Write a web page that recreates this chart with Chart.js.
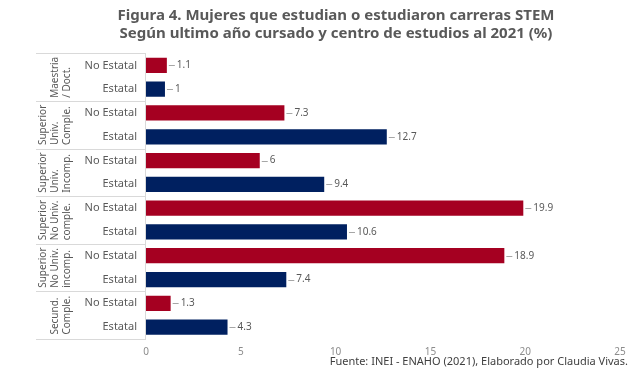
<!DOCTYPE html>
<html>
<head>
<meta charset="utf-8">
<script src="https://cdn.jsdelivr.net/npm/chart.js@4"></script>
<style>
  html, body { margin: 0; padding: 0; background: #fff; }
  #wrap { width: 640px; height: 370px; }
</style>
</head>
<body>
<div id="wrap"><canvas id="chart"></canvas></div>
<script>
const groupLabels = [
  ['Maestria', '/ Doct.'],
  ['Superior', 'Univ.', 'Comple.'],
  ['Superior', 'Univ.', 'Incomp.'],
  ['Superior', 'No Univ.', 'comple.'],
  ['Superior', 'No Univ.', 'incomp.'],
  ['Secund.', 'Comple.']
];
const subLabels = ['No Estatal', 'Estatal', 'No Estatal', 'Estatal', 'No Estatal', 'Estatal',
                   'No Estatal', 'Estatal', 'No Estatal', 'Estatal', 'No Estatal', 'Estatal'];
const values = [1.1, 1, 7.3, 12.7, 6, 9.4, 19.9, 10.6, 18.9, 7.4, 1.3, 4.3];
const xTicks = [0, 5, 10, 15, 20, 25];
const sourceText = 'Fuente: INEI - ENAHO (2021), Elaborado por Claudia Vivas.';

const RED = '#a50021';
const NAVY = '#002060';
const FONT = "'Noto Sans', sans-serif";
const barColors = subLabels.map(l => l === 'No Estatal' ? RED : NAVY);

// draws the two-level category axis on the left, the value labels and the source
const axisPlugin = {
  id: 'twoLevelAxis',
  afterDraw(chart) {
    const ctx = chart.ctx;
    const ys = chart.scales.y;
    const area = chart.chartArea;
    const band = ys.getPixelForValue(1) - ys.getPixelForValue(0);
    const boxLeft = 36;
    ctx.save();
    ctx.strokeStyle = '#d9d9d9';
    ctx.lineWidth = 1;
    // group separators
    for (let g = 0; g <= groupLabels.length; g++) {
      const y = Math.round(ys.getPixelForValue(g * 2) - band / 2) + 0.5;
      ctx.beginPath();
      ctx.moveTo(boxLeft, y);
      ctx.lineTo(area.left, y);
      ctx.stroke();
    }
    ctx.beginPath();
    ctx.moveTo(Math.round(area.left) - 0.5, area.top);
    ctx.lineTo(Math.round(area.left) - 0.5, area.bottom);
    ctx.stroke();

    // sub labels
    ctx.fillStyle = '#595959';
    ctx.font = '11px ' + FONT;
    ctx.textAlign = 'right';
    ctx.textBaseline = 'middle';
    subLabels.forEach((l, i) => {
      ctx.fillText(l, area.left - 9, ys.getPixelForValue(i));
    });

    // rotated group labels
    ctx.font = '10px ' + FONT;
    groupLabels.forEach((lines, g) => {
      const cy = (ys.getPixelForValue(g * 2) + ys.getPixelForValue(g * 2 + 1)) / 2;
      const maxW = Math.max(...lines.map(t => ctx.measureText(t).width));
      const lastX = 67;
      lines.forEach((t, k) => {
        const x = lastX - (lines.length - 1 - k) * 12;
        ctx.save();
        ctx.translate(x, cy + maxW / 2);
        ctx.rotate(-Math.PI / 2);
        ctx.textAlign = 'left';
        ctx.textBaseline = 'middle';
        ctx.fillText(t, 0, 0);
        ctx.restore();
      });
    });

    // value labels with leader line
    const meta = chart.getDatasetMeta(0);
    ctx.font = '10px ' + FONT;
    ctx.textAlign = 'left';
    ctx.strokeStyle = '#a6a6a6';
    meta.data.forEach((bar, i) => {
      const y = Math.round(bar.y) + 0.5;
      ctx.beginPath();
      ctx.moveTo(bar.x + 2, y);
      ctx.lineTo(bar.x + 8, y);
      ctx.stroke();
      ctx.fillStyle = '#595959';
      ctx.fillText(String(values[i]), bar.x + 10, bar.y);
    });

    // source note
    ctx.font = '11px ' + FONT;
    ctx.fillStyle = '#404040';
    ctx.textAlign = 'right';
    ctx.fillText(sourceText, 628, 362);
    ctx.restore();
  }
};

new Chart(document.getElementById('chart'), {
  type: 'bar',
  data: {
    labels: subLabels,
    datasets: [{
      data: values,
      backgroundColor: barColors,
      barPercentage: 0.64,
      categoryPercentage: 1
    }]
  },
  options: {
    indexAxis: 'y',
    responsive: true,
    maintainAspectRatio: false,
    animation: false,
    layout: { padding: { left: 52, right: 20, top: 6, bottom: 5 } },
    plugins: {
      legend: { display: false },
      tooltip: { enabled: false },
      title: {
        display: true,
        text: ['Figura 4. Mujeres que estudian o estudiaron carreras STEM',
               'Según ultimo año cursado y centro de estudios al 2021 (%)'],
        color: '#595959',
        font: { family: FONT, size: 15, weight: 'bold', lineHeight: 1.25 },
        padding: { top: 0, bottom: 10 }
      }
    },
    scales: {
      x: {
        min: 0,
        max: 25,
        afterBuildTicks: s => { s.ticks = xTicks.map(v => ({ value: v })); },
        grid: { display: false, drawTicks: false },
        border: { display: false },
        ticks: { color: '#8c8c8c', font: { family: FONT, size: 10 }, padding: 7 }
      },
      y: {
        afterFit: s => { s.width = 94; },
        grid: { display: false, drawTicks: false },
        border: { display: false },
        ticks: { display: false }
      }
    }
  },
  plugins: [axisPlugin]
});
</script>
</body>
</html>
